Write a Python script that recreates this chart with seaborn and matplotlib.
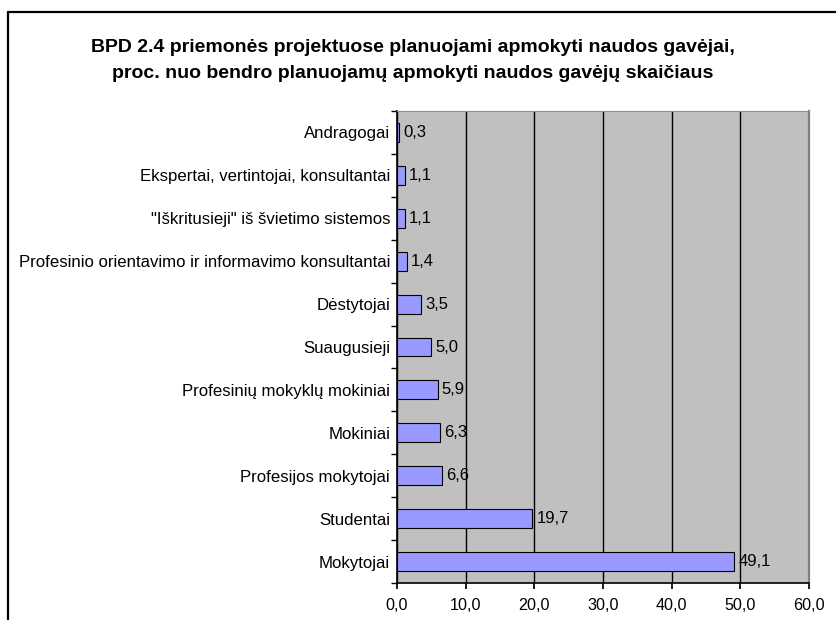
import matplotlib
matplotlib.use('Agg')
import matplotlib.pyplot as plt
import seaborn as sns
import pandas as pd
import numpy as np
from matplotlib.lines import Line2D
from matplotlib.ticker import FixedLocator, FuncFormatter

categories = [
    "Andragogai",
    "Ekspertai, vertintojai, konsultantai",
    "\"Iškritusieji\" iš švietimo sistemos",
    "Profesinio orientavimo ir informavimo konsultantai",
    "Dėstytojai",
    "Suaugusieji",
    "Profesinių mokyklų mokiniai",
    "Mokiniai",
    "Profesijos mokytojai",
    "Studentai",
    "Mokytojai",
]
values = [0.3, 1.1, 1.1, 1.4, 3.5, 5.0, 5.9, 6.3, 6.6, 19.7, 49.1]
x_ticks = [0, 10, 20, 30, 40, 50, 60]
title_lines = [
    "BPD 2.4 priemonės projektuose planuojami apmokyti naudos gavėjai,",
    "proc. nuo bendro planuojamų apmokyti naudos gavėjų skaičiaus",
]

sns.set_theme(style='white')
plt.rcParams['font.family'] = ['Liberation Sans', 'DejaVu Sans']

W, H = 836, 620
fig = plt.figure(figsize=(W / 100, H / 100), dpi=100)
ax = fig.add_axes([397 / W, 1 - 583 / H, (809 - 397) / W, (583 - 111) / H])

df = pd.DataFrame({'cat': categories, 'val': values})
sns.barplot(data=df, x='val', y='cat', orient='h', color='#9999FF',
            edgecolor='black', linewidth=0.8, width=0.44, saturation=1, ax=ax)

ax.set_facecolor('#C0C0C0')
ax.set_xlim(0, 60)
ax.set_ylim(len(categories) - 0.5, -0.5)
ax.set_axisbelow(True)
ax.set_xticks(x_ticks)
ax.xaxis.set_major_formatter(FuncFormatter(lambda v, p: f"{v:.1f}".replace('.', ',')))
ax.xaxis.grid(True, color='black', lw=1)
ax.yaxis.grid(False)
ax.set_xlabel('')
ax.set_ylabel('')

ax.tick_params(axis='x', length=4, direction='out', color='black', labelsize=11.6,
               pad=7, bottom=True, labelcolor='black')
ax.tick_params(axis='y', which='major', length=0, pad=5, labelsize=12.1, labelcolor='black')
ax.yaxis.set_minor_locator(FixedLocator(np.arange(-0.5, len(categories), 1)))
ax.tick_params(axis='y', which='minor', length=4, direction='out', color='black', left=True)

for s in ['left', 'bottom']:
    ax.spines[s].set_color('black')
    ax.spines[s].set_linewidth(1.2)
ax.spines['top'].set_color('#909090')
ax.spines['top'].set_linewidth(0.8)
ax.spines['right'].set_color('#808080')
ax.spines['right'].set_linewidth(1.6)

labels = [f"{v:.1f}".replace('.', ',') for v in values]
ax.bar_label(ax.containers[0], labels=labels, padding=3, fontsize=12, color='black')

fig.text(413 / W, 1 - 60.5 / H, "\n".join(title_lines), ha='center', va='center',
         fontsize=14, fontweight='bold', linespacing=1.62, color='black')

fig.add_artist(Line2D([8 / W, 8 / W], [0, 1 - 12 / H], transform=fig.transFigure,
                      color='black', lw=1.6))
fig.add_artist(Line2D([8 / W, 1], [1 - 12 / H, 1 - 12 / H], transform=fig.transFigure,
                      color='black', lw=1.6))

fig.savefig('out.png', dpi=100)
